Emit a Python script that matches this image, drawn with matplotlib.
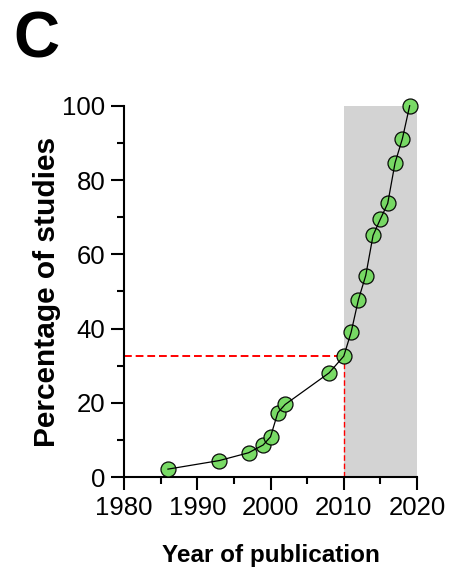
import numpy as np
import matplotlib
matplotlib.use('Agg')
import matplotlib.pyplot as plt
from matplotlib.ticker import MultipleLocator

plt.rcParams['font.family'] = ['Liberation Sans', 'DejaVu Sans']

years = [1986, 1993, 1997, 1999, 2000, 2001, 2002, 2008, 2010, 2011,
         2012, 2013, 2014, 2015, 2016, 2017, 2018, 2019]
pct = [2.2, 4.5, 6.6, 8.7, 10.9, 17.4, 19.6, 28.1, 32.6, 39.0,
       47.8, 54.3, 65.1, 69.5, 73.7, 84.6, 91.1, 100.0]

cutoff_year = 2010
cutoff_pct = 32.6

fig = plt.figure(figsize=(4.61, 5.71), dpi=100)
ax = fig.add_axes([0.2690, 0.1641, 0.6356, 0.6508])

# shaded recent period
ax.fill_between([cutoff_year, 2020], 0, 100, color='#D3D3D3', lw=0, zorder=0)

# reference lines to the cutoff point
ax.plot([1980, cutoff_year], [cutoff_pct, cutoff_pct], color='red', ls=(0, (4, 2)),
        lw=1.4, zorder=1)
ax.plot([cutoff_year, cutoff_year], [0, cutoff_pct], color='red', ls=(0, (4, 2)),
        lw=1.0, zorder=1)

ax.plot(years, pct, ls='none', marker='o', ms=10.8, mfc='#72D95E', mec='black',
        mew=0.9, alpha=0.95, zorder=3, clip_on=False)
ax.plot(years, pct, color='black', lw=0.9, zorder=4, clip_on=False)

ax.set_xlim(1980, 2020)
ax.set_ylim(0, 100)
ax.xaxis.set_major_locator(MultipleLocator(10))
ax.xaxis.set_minor_locator(MultipleLocator(5))
ax.yaxis.set_major_locator(MultipleLocator(20))
ax.yaxis.set_minor_locator(MultipleLocator(10))

for s in ['top', 'right']:
    ax.spines[s].set_visible(False)
for s in ['left', 'bottom']:
    ax.spines[s].set_linewidth(1.5)

ax.tick_params(which='major', length=9.5, width=1.5, labelsize=18.5, pad=4)
ax.tick_params(which='minor', length=5, width=1.5)

ax.set_xlabel('Year of publication', fontsize=17.5, fontweight='bold', labelpad=17)
ax.set_ylabel('Percentage of studies', fontsize=21.5, fontweight='bold', labelpad=1)

fig.text(0.03, 0.982, 'C', fontsize=46, fontweight='bold', va='top', ha='left')

fig.savefig('out.png', dpi=100)
